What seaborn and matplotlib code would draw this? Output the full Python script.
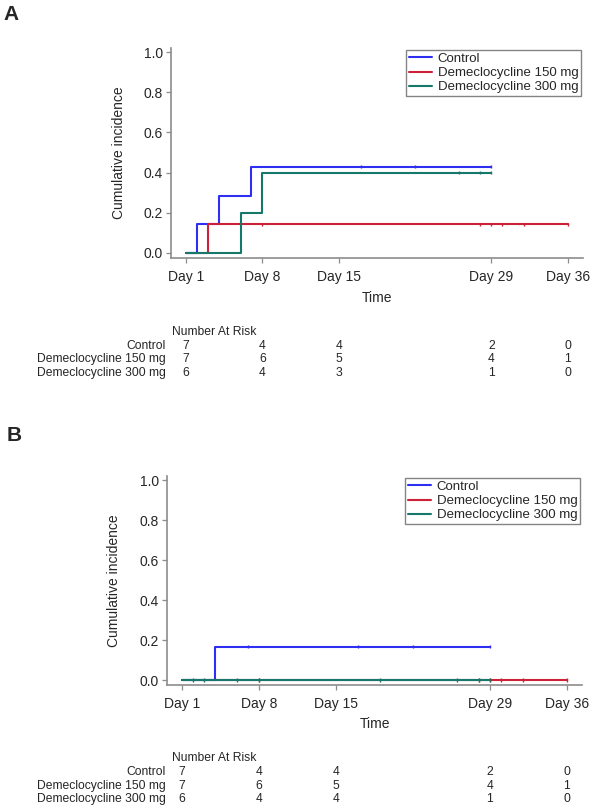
import pandas as pd
import numpy as np
import matplotlib
matplotlib.use("Agg")
import matplotlib.pyplot as plt
import matplotlib.transforms as mtransforms
import seaborn as sns

sns.set_style("ticks")
plt.rcParams['font.family'] = ['Liberation Sans', 'DejaVu Sans']

groups = ['Control', 'Demeclocycline 150 mg', 'Demeclocycline 300 mg']
colors = ['#2f2ff2', '#cc2136', '#16786a']
day_ticks = [1, 8, 15, 29, 36]
day_labels = ['Day 1', 'Day 8', 'Day 15', 'Day 29', 'Day 36']

# panel A: step curves (time of step, value after step) and censor times
a_ctrl_t = [1, 2, 4, 7, 29]
a_ctrl_y = [0, 0.143, 0.286, 0.429, 0.429]
a_ctrl_cens = [17, 22, 29]
a_150_t = [1, 3, 36]
a_150_y = [0, 0.143, 0.143]
a_150_cens = [8, 28, 29, 30, 32, 36]
a_300_t = [1, 6, 8, 29]
a_300_y = [0, 0.2, 0.4, 0.4]
a_300_cens = [26, 28, 29]
a_risk = [[7, 4, 4, 2, 0], [7, 6, 5, 4, 1], [6, 4, 3, 1, 0]]

# panel B
b_ctrl_t = [1, 4, 29]
b_ctrl_y = [0, 0.167, 0.167]
b_ctrl_cens = [7, 17, 22, 29]
b_150_t = [1, 36]
b_150_y = [0, 0]
b_150_cens = [8, 28, 29, 30, 32, 36]
b_300_t = [1, 29]
b_300_y = [0, 0]
b_300_cens = [2, 3, 6, 8, 19, 26, 28, 29]
b_risk = [[7, 4, 4, 2, 0], [7, 6, 5, 4, 1], [6, 4, 4, 1, 0]]


def build(curves):
    rows, cens = [], []
    for g, (t, y, c) in zip(groups, curves):
        for ti, yi in zip(t, y):
            rows.append((g, ti, yi))
        for ci in c:
            idx = np.searchsorted(t, ci, side='right') - 1
            cens.append((g, ci, y[idx]))
    return (pd.DataFrame(rows, columns=['group', 'time', 'value']),
            pd.DataFrame(cens, columns=['group', 'time', 'value']))


fig = plt.figure(figsize=(5.94, 8.09), dpi=100)
W, H = 594, 809
pal = dict(zip(groups, colors))


def panel(rect, curves, risk, letter, letter_xy, risk_y):
    ax = fig.add_axes(rect)
    df, cdf = build(curves)
    sns.lineplot(data=df, x='time', y='value', hue='group', palette=pal,
                 drawstyle='steps-post', estimator=None, sort=True,
                 linewidth=1.5, ax=ax, legend=False)
    sns.scatterplot(data=cdf, x='time', y='value', hue='group', palette=pal,
                    marker='|', s=6, linewidth=1, ax=ax, legend=False)
    ax.set_xlim(-0.38, 37.4)
    ax.set_ylim(-0.025, 1.02)
    ax.set_xticks(day_ticks)
    ax.set_xticklabels(day_labels)
    ax.set_yticks([0, 0.2, 0.4, 0.6, 0.8, 1.0])
    ax.set_yticklabels(['0.0', '0.2', '0.4', '0.6', '0.8', '1.0'])
    ax.tick_params(axis='both', labelsize=10, length=3.6, width=0.9,
                   color='#8c8c8c')
    ax.tick_params(axis='x', pad=5)
    ax.tick_params(axis='y', pad=2)
    for s in ['left', 'bottom']:
        ax.spines[s].set_color('#8c8c8c')
        ax.spines[s].set_linewidth(1.2)
    sns.despine(ax=ax)
    ax.set_xlabel('Time', fontsize=10)
    ax.set_ylabel('Cumulative incidence', fontsize=10)
    ax.xaxis.set_label_coords(0.5, -0.155)
    ax.yaxis.set_label_coords(-0.11, 0.5)
    handles = [plt.Line2D([], [], color=c, lw=1.5) for c in colors]
    leg = ax.legend(handles, groups, loc='upper right',
                    bbox_to_anchor=(0.995, 0.99), borderaxespad=0,
                    fontsize=9.5, frameon=True, fancybox=False,
                    borderpad=0.2, labelspacing=0.15, handlelength=1.8,
                    handletextpad=0.4)
    leg.get_frame().set_edgecolor('#666666')
    leg.get_frame().set_linewidth(1)
    fig.text(letter_xy[0] / W, 1 - letter_xy[1] / H, letter, fontsize=15,
             fontweight='bold', ha='left', va='center')
    # number at risk table
    trans = mtransforms.blended_transform_factory(ax.transData, fig.transFigure)
    fig.text(172 / W, 1 - risk_y[0] / H, 'Number At Risk', fontsize=8.7,
             ha='left', va='center')
    for i, g in enumerate(groups):
        yy = 1 - risk_y[i + 1] / H
        fig.text(166 / W, yy, g, fontsize=8.7, ha='right', va='center')
        for d, n in zip(day_ticks, risk[i]):
            ax.text(d, yy, str(n), fontsize=8.7, ha='center', va='center',
                    transform=trans)
    return ax


panel([171 / W, 1 - 258 / H, 412 / W, 210 / H],
      [(a_ctrl_t, a_ctrl_y, a_ctrl_cens), (a_150_t, a_150_y, a_150_cens),
       (a_300_t, a_300_y, a_300_cens)],
      a_risk, 'A', (3, 15), [332, 346, 359, 373])

panel([167 / W, 1 - 685 / H, 415 / W, 209 / H],
      [(b_ctrl_t, b_ctrl_y, b_ctrl_cens), (b_150_t, b_150_y, b_150_cens),
       (b_300_t, b_300_y, b_300_cens)],
      b_risk, 'B', (7, 436), [758, 772, 786, 799])

fig.savefig('out.png', dpi=100)
